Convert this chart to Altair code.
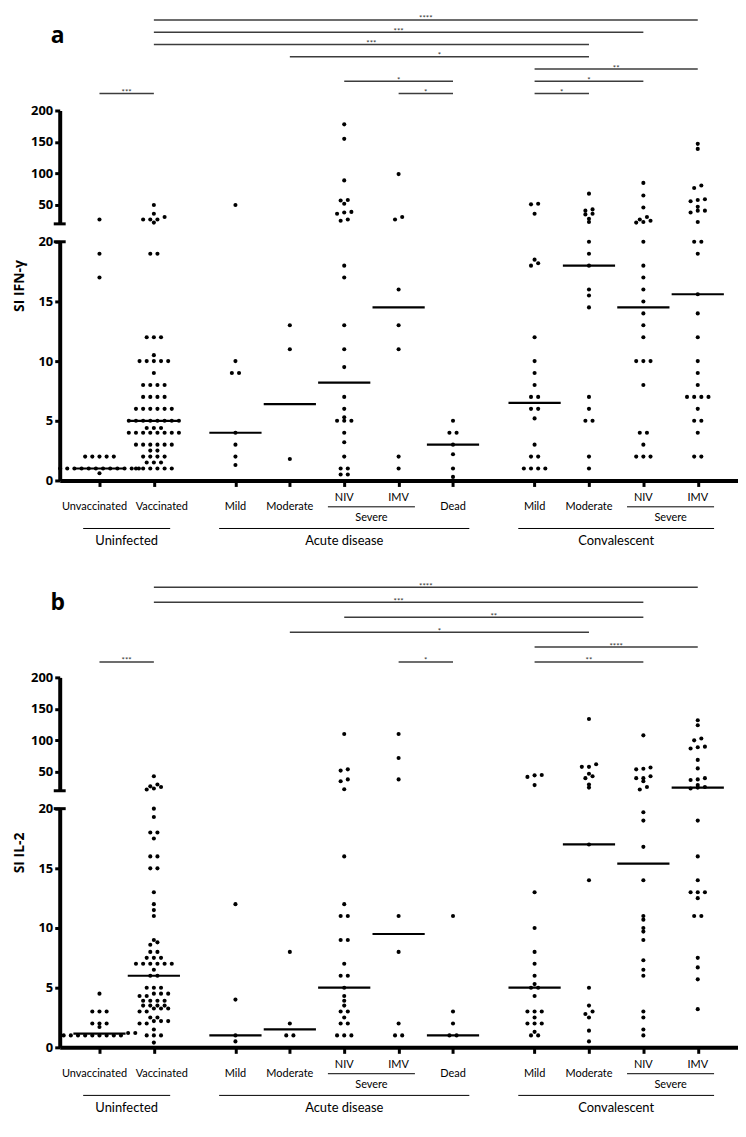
import altair as alt
import pandas as pd
import numpy as np

# ---------------- categories ----------------
cat_labels = ["Unvaccinated", "Vaccinated", "Mild", "Moderate", "NIV", "IMV", "Dead",
              "Mild", "Moderate", "NIV", "IMV"]
cat_groups = ["Uninfected", "Uninfected", "Acute disease", "Acute disease", "Acute disease",
              "Acute disease", "Acute disease", "Convalescent", "Convalescent", "Convalescent",
              "Convalescent"]
cat_severe = [False, False, False, False, True, True, False, False, False, True, True]
cat_keys = ["unvacc", "vacc", "a_mild", "a_mod", "a_niv", "a_imv", "a_dead",
            "c_mild", "c_mod", "c_niv", "c_imv"]

# ---------------- panel a : SI IFN-gamma ----------------
ifng_unvacc = [27, 19, 17, 2, 2, 2, 2, 2, 1, 1, 1, 1, 1, 1, 1, 1, 1, 1, 1, 1, 0.6]
ifng_vacc = [50, 36, 31, 27, 27, 27, 22, 19, 19, 12, 12, 12, 10.5, 10, 10, 10, 10, 10, 9,
             8, 8, 8, 8, 7, 7, 7, 7, 6, 6, 6, 6, 6, 6, 5, 5, 5, 5, 5, 5, 5, 5,
             4.4, 4.4, 4.4, 4, 4, 4, 4, 4, 4, 4, 4, 3, 3, 3, 3, 3, 3, 2.5, 2.5,
             2, 2, 2, 2, 1.5, 1.5, 1.5, 1, 1, 1, 1, 1, 1]
ifng_a_mild = [50, 10, 9, 9, 4, 3, 2, 1.3]
ifng_a_mod = [13, 11, 1.8]
ifng_a_niv = [178, 155, 89, 58, 57, 52, 39, 38, 36, 27, 25, 18, 17, 13, 11, 9.5, 7, 6,
              5.3, 5, 5, 5, 4, 3.2, 2, 1, 1, 0.5, 0.5]
ifng_a_imv = [99, 31, 27, 16, 13, 11, 2, 1]
ifng_a_dead = [5, 4, 4, 3, 2.2, 1, 0.3]
ifng_c_mild = [52, 51, 36, 18.5, 18.2, 18, 12, 10, 9, 8, 7, 7, 6, 6, 5.2, 3, 2, 2, 1, 1, 1, 1]
ifng_c_mod = [68, 43, 41, 36, 35, 28, 23, 20, 19, 18, 16, 15.5, 14.5, 7, 6, 5, 5, 2, 1]
ifng_c_niv = [85, 65, 46, 31, 27, 25, 23, 22, 20, 18, 17, 16, 15, 14, 13, 12, 10, 10, 10,
              8, 4, 4, 3, 2, 2, 2]
ifng_c_imv = [147, 139, 81, 77, 59, 58, 56, 47, 41, 41, 38, 23, 20, 20, 19, 15.6, 14, 12,
              10, 9, 8, 7, 7, 7, 7, 6, 5, 5, 4, 2, 2]
ifng_median = [1, 5, 4, 6.4, 8.2, 14.5, 3, 6.5, 18, 14.5, 15.6]

# brackets: (from, to, tier, stars)
ifng_br_from = ["unvacc", "a_imv", "c_mild", "a_niv", "c_mild", "c_mild", "a_mod", "vacc", "vacc", "vacc"]
ifng_br_to = ["vacc", "a_dead", "c_mod", "a_dead", "c_niv", "c_imv", "c_mod", "c_mod", "c_niv", "c_imv"]
ifng_br_tier = [1, 1, 1, 2, 2, 3, 4, 5, 6, 7]
ifng_br_stars = ["***", "*", "*", "*", "*", "**", "*", "***", "***", "****"]

# ---------------- panel b : SI IL-2 ----------------
il2_unvacc = [4.5, 3, 3, 3, 2, 2, 2, 1.7, 1.2, 1.2, 1, 1, 1, 1, 1, 1, 1, 1, 1]
il2_vacc = [43, 30, 27, 26, 23.5, 22, 20, 19.3, 18, 18, 17.5, 16, 16, 15, 15, 13, 12, 11.5,
            11, 9, 8.8, 8.6, 8, 8, 7.5, 7.5, 7.5, 7, 7, 7, 7, 7, 7, 6.5, 6, 6, 5, 5, 5,
            4.5, 4.5, 4.5, 4.3, 4.3, 3.9, 3.9, 3.9, 3.9, 3.5, 3.5, 3.5, 3.5, 3.25, 3.25,
            3.25, 3, 3, 2.5, 2.5, 2.2, 2.2, 2.2, 2, 2, 1.5, 1, 1, 1, 0.4]
il2_a_mild = [12, 4, 1, 0.5]
il2_a_mod = [8, 2, 1, 1]
il2_a_niv = [110, 54, 52, 38, 35, 22.5, 16, 12, 11, 11, 9, 9, 7, 6, 6, 5, 4.3, 3.9, 3.5,
             3, 3, 2.5, 2, 2, 1, 1, 1]
il2_a_imv = [110, 72, 38, 11, 8, 2, 1, 1]
il2_a_dead = [11, 3, 2, 1, 1]
il2_c_mild = [45, 44.5, 42, 29, 13, 10, 8, 7, 6, 5.3, 5, 5, 4.3, 3, 3, 3, 2.5, 2, 2, 2, 1.3, 1, 1]
il2_c_mod = [134, 62, 58, 58, 47, 43, 40, 30, 25, 17, 14, 5, 3.5, 3, 2.8, 2.5, 1.4, 0.5]
il2_c_niv = [108, 57, 55, 54, 43, 40, 40, 35, 26, 22, 19.7, 19, 16.8, 14, 11, 10.7, 10,
             9.7, 9, 7.3, 6.5, 6, 3, 2.5, 1.5, 1]
il2_c_imv = [132, 124, 103, 100, 90, 89, 87, 69, 55.5, 40, 38, 37, 29, 26, 25, 23.5, 19,
             16, 14, 13, 13, 13, 12.5, 11, 11, 7.5, 6.7, 5.7, 3.2]
il2_median = [1.15, 6, 1, 1.5, 5, 9.5, 1, 5, 17, 15.4, 25]

il2_br_from = ["unvacc", "a_imv", "c_mild", "c_mild", "a_mod", "a_niv", "vacc", "vacc"]
il2_br_to = ["vacc", "a_dead", "c_niv", "c_imv", "c_mod", "c_niv", "c_niv", "c_imv"]
il2_br_tier = [1, 1, 1, 2, 3, 4, 5, 6]
il2_br_stars = ["***", "*", "**", "****", "*", "**", "***", "****"]

# ---------------- layout constants ----------------
W = 682
X_DOMAIN = [-0.731, 11.74]
PX_PER_UNIT = W / (X_DOMAIN[1] - X_DOMAIN[0])
DOT_STEP = 7.2 / PX_PER_UNIT
HALF_MED = 0.48
SPAN_PAD = 0.3
H_BR, H_UP, GAP, H_LOW, H_LAB_A, H_LAB_B = 100, 114, 18, 240, 98, 71
FONT_NUM = "Open Sans"
FONT_TXT = "Lato"


def cat_positions():
    pos, g, prev = [], 0, None
    for i, grp in enumerate(cat_groups):
        if prev is not None and grp != prev:
            g += 1
        pos.append(i + 0.5 * g)
        prev = grp
    return pos


POS = cat_positions()
POS_OF = dict(zip(cat_keys, POS))


def px_level(v):
    # approximate screen height, only used to decide which dots share a row
    return 12 * v if v <= 20 else H_LOW + GAP + (v - 20) * H_UP / 180


def swarm(values, pos):
    ys = [px_level(v) for v in values]
    order = np.argsort(ys, kind="stable")
    rows, cur, start = [], [], None
    for idx in order:
        if cur and ys[idx] - start > 3.0:
            rows.append(cur)
            cur = []
        if not cur:
            start = ys[idx]
        cur.append(idx)
    if cur:
        rows.append(cur)
    xs = [0.0] * len(values)
    for r in rows:
        n = len(r)
        for k, idx in enumerate(r):
            xs[idx] = pos + (k - (n - 1) / 2) * DOT_STEP
    return xs


def xenc(field, axis=None):
    return alt.X(field, type="quantitative",
                 scale=alt.Scale(domain=X_DOMAIN, nice=False, zero=False), axis=axis)


AX_COMMON = dict(grid=False, domainColor="black", domainWidth=4, tickColor="black",
                 tickWidth=3, tickSize=5, labelFont=FONT_NUM, labelFontSize=13,
                 labelFontWeight="bold", labelColor="black", labelPadding=2,
                 minExtent=30, maxExtent=30)


def panel(series, medians, br_from, br_to, br_tier, br_stars, letter, ytitle,
          tier_domain, h_lab):
    rows = []
    for key, pos in zip(cat_keys, POS):
        vals = series[key]
        for v, x in zip(vals, swarm(vals, pos)):
            rows.append({"x": x, "v": v})
    pts = pd.DataFrame(rows)
    med = pd.DataFrame({"x1": [p - HALF_MED for p in POS], "x2": [p + HALF_MED for p in POS],
                        "m": medians})

    # ---- upper segment (20-200) ----
    up_axis = alt.Axis(values=[50, 100, 150, 200], title=None, **AX_COMMON)
    def y_up(f):
        return alt.Y(f, type="quantitative",
                     scale=alt.Scale(domain=[20, 200], nice=False, zero=False), axis=up_axis)
    up_layers = [
        alt.Chart(pts[pts.v > 20]).mark_circle(size=17, color="black", opacity=1)
        .encode(x=xenc("x"), y=y_up("v")),
        alt.Chart(pd.DataFrame({"v": [20]})).mark_rule(color="black", strokeWidth=3)
        .encode(x=alt.value(-6), x2=alt.value(6), y=y_up("v")),
    ]
    mu = med[med.m > 20]
    if len(mu):
        up_layers.append(alt.Chart(mu).mark_rule(color="black", strokeWidth=2.2)
                         .encode(x=xenc("x1"), x2="x2", y=y_up("m")))
    upper = alt.layer(*up_layers).properties(width=W, height=H_UP)

    # ---- spacer for the axis break ----
    spacer = alt.Chart(pd.DataFrame({"t": [""]})).mark_text().encode(
        text="t:N").properties(width=W, height=GAP)

    # ---- lower segment (0-20) ----
    low_axis = alt.Axis(values=[0, 5, 10, 15, 20], title=ytitle, titleFont=FONT_NUM,
                        titleFontSize=14, titleFontWeight="bold", titleColor="black",
                        titleX=-33, titleY=44, titleAngle=-90, titleAlign="center",
                        titleBaseline="bottom", **AX_COMMON)
    x_axis = alt.Axis(values=POS, labels=False, ticks=True, tickSize=6, tickWidth=3,
                      tickColor="black", domainWidth=4, domainColor="black", grid=False,
                      title=None)
    def y_low(f):
        return alt.Y(f, type="quantitative",
                     scale=alt.Scale(domain=[0, 20], nice=False, zero=False), axis=low_axis)
    low_layers = [
        alt.Chart(pts[pts.v <= 20]).mark_circle(size=17, color="black", opacity=1)
        .encode(x=xenc("x", x_axis), y=y_low("v")),
        alt.Chart(med[med.m <= 20]).mark_rule(color="black", strokeWidth=2.2)
        .encode(x=xenc("x1", x_axis), x2="x2", y=y_low("m")),
        alt.Chart(pd.DataFrame({"v": [20]})).mark_rule(color="black", strokeWidth=3)
        .encode(x=alt.value(-6), x2=alt.value(6), y=y_low("v")),
    ]
    lower = alt.layer(*low_layers).properties(width=W, height=H_LOW)

    # ---- brackets ----
    br = pd.DataFrame({
        "x1": [POS_OF[a] for a in br_from], "x2": [POS_OF[b] for b in br_to],
        "tier": br_tier, "stars": br_stars})
    br["xm"] = (br.x1 + br.x2) / 2
    def y_br(f):
        return alt.Y(f, type="quantitative",
                     scale=alt.Scale(domain=tier_domain, nice=False, zero=False), axis=None)
    brackets = alt.layer(
        alt.Chart(br).mark_rule(color="#3c3c3c", strokeWidth=1.5)
        .encode(x=xenc("x1"), x2="x2", y=y_br("tier")),
        alt.Chart(br).mark_text(font=FONT_TXT, fontSize=8, color="#333", baseline="alphabetic",
                                dy=1.5)
        .encode(x=xenc("xm"), y=y_br("tier"), text="stars:N"),
        alt.Chart(pd.DataFrame({"t": [letter]})).mark_text(
            font=FONT_NUM, fontSize=23, fontWeight="bold", color="black",
            align="center", baseline="middle")
        .encode(x=alt.value(-2), y=alt.value(25), text="t:N"),
    ).properties(width=W, height=H_BR)

    # ---- category / group labels ----
    cats = pd.DataFrame({"x": POS, "label": cat_labels, "severe": cat_severe,
                         "group": cat_groups})
    plain = cats[~cats.severe & (cats.group != "Uninfected")]
    unvac = cats[cats.label == "Unvaccinated"]
    vac = cats[cats.label == "Vaccinated"]
    sev = cats[cats.severe]
    sev_spans = []
    for grp in ["Acute disease", "Convalescent"]:
        s = sev[sev.group == grp]
        sev_spans.append({"x1": s.x.min() - SPAN_PAD, "x2": s.x.max() + SPAN_PAD,
                          "xm": s.x.mean(), "t": "Severe"})
    sev_spans = pd.DataFrame(sev_spans)
    grp_spans = []
    for grp in ["Uninfected", "Acute disease", "Convalescent"]:
        s = cats[cats.group == grp]
        grp_spans.append({"x1": s.x.min() - SPAN_PAD, "x2": s.x.max() + SPAN_PAD,
                          "xm": (s.x.min() + s.x.max()) / 2, "t": grp})
    grp_spans = pd.DataFrame(grp_spans)
    txt = dict(font=FONT_TXT, color="black", baseline="middle", fontWeight="normal")
    labels = alt.layer(
        alt.Chart(plain).mark_text(fontSize=11, **txt)
        .encode(x=xenc("x"), y=alt.value(26.6), text="label:N"),
        alt.Chart(unvac).mark_text(fontSize=11, dx=-5, **txt)
        .encode(x=xenc("x"), y=alt.value(26.6), text="label:N"),
        alt.Chart(vac).mark_text(fontSize=11, dx=8, **txt)
        .encode(x=xenc("x"), y=alt.value(26.6), text="label:N"),
        alt.Chart(sev).mark_text(fontSize=11, **txt)
        .encode(x=xenc("x"), y=alt.value(17.5), text="label:N"),
        alt.Chart(sev_spans).mark_rule(color="black", strokeWidth=1)
        .encode(x=xenc("x1"), x2="x2", y=alt.value(26.5)),
        alt.Chart(sev_spans).mark_text(fontSize=11, **txt)
        .encode(x=xenc("xm"), y=alt.value(38), text="t:N"),
        alt.Chart(grp_spans).mark_rule(color="black", strokeWidth=1)
        .encode(x=xenc("x1"), x2="x2", y=alt.value(48.3)),
        alt.Chart(grp_spans).mark_text(fontSize=13, **txt)
        .encode(x=xenc("xm"), y=alt.value(61), text="t:N"),
    ).properties(width=W, height=h_lab)

    return [brackets, upper, spacer, lower, labels]


ifng = dict(zip(cat_keys, [ifng_unvacc, ifng_vacc, ifng_a_mild, ifng_a_mod, ifng_a_niv,
                           ifng_a_imv, ifng_a_dead, ifng_c_mild, ifng_c_mod, ifng_c_niv,
                           ifng_c_imv]))
il2 = dict(zip(cat_keys, [il2_unvacc, il2_vacc, il2_a_mild, il2_a_mod, il2_a_niv,
                          il2_a_imv, il2_a_dead, il2_c_mild, il2_c_mod, il2_c_niv,
                          il2_c_imv]))

panel_a = panel(ifng, ifng_median, ifng_br_from, ifng_br_to, ifng_br_tier, ifng_br_stars,
                "a", "SI IFN-\u03b3", [-0.378, 7.73], H_LAB_A)
panel_b = panel(il2, il2_median, il2_br_from, il2_br_to, il2_br_tier, il2_br_stars,
                "b", "SI IL-2", [-0.033, 6.633], H_LAB_B)

chart = alt.vconcat(*(panel_a + panel_b), spacing=0, bounds="flush").properties(
    padding={"left": 5, "top": 0, "right": 0, "bottom": 0}
).configure_view(stroke=None)

chart.save("out.html", embed_options={"renderer": "svg", "actions": False})
